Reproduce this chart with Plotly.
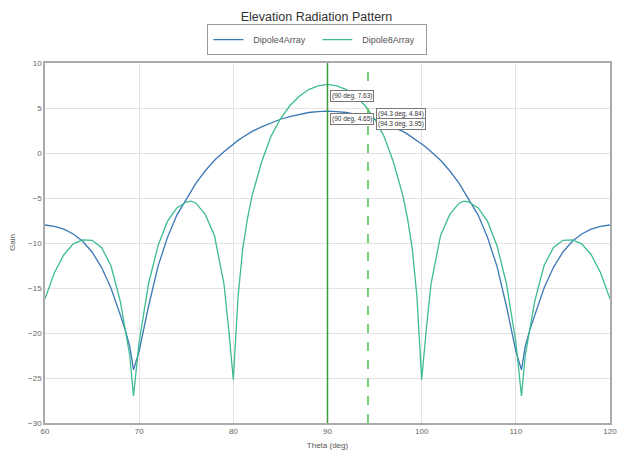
import plotly.graph_objects as go

# ---- data ----
theta = [60, 61, 62, 63, 64, 65, 66, 67, 68, 68.5, 69, 69.4, 70, 71, 72, 73, 74, 75, 75.5, 76,
         77, 78, 79, 79.5, 80, 80.5, 81, 81.5, 82, 83, 84, 85, 86, 87, 88, 89, 90,
         91, 92, 93, 94, 95, 96, 97, 98, 98.5, 99, 99.5, 100, 100.5, 101, 102, 103, 104, 104.5,
         105, 106, 107, 108, 109, 110, 110.6, 111, 111.5, 112, 113, 114, 115, 116, 117, 118, 119, 120]

dipole4 = [-8.0, -8.15, -8.45, -9.0, -9.8, -11.0, -12.7, -15.0, -18.0, -19.6, -21.5, -24.1, -22.0,
           -17.0, -12.6, -9.4, -6.9, -5.2, -4.3, -3.4, -2.0, -0.8, 0.15, 0.6, 1.0, 1.4, 1.75, 2.1,
           2.4, 2.9, 3.35, 3.75, 4.05, 4.3, 4.5, 4.6, 4.65,
           4.6, 4.5, 4.3, 4.05, 3.75, 3.35, 2.9, 2.4, 2.1, 1.75, 1.4, 1.0, 0.6, 0.15, -0.8, -2.0,
           -3.4, -4.3, -5.2, -6.9, -9.4, -12.6, -17.0, -22.0, -24.1, -21.5, -19.6, -18.0, -15.0,
           -12.7, -11.0, -9.8, -9.0, -8.45, -8.15, -8.0]

dipole8 = [-16.2, -13.3, -11.3, -10.1, -9.65, -9.7, -10.5, -12.5, -16.5, -19.5, -22.5, -27.0, -21.0,
           -14.5, -10.3, -7.6, -6.1, -5.45, -5.35, -5.55, -6.8, -9.2, -14.5, -19.5, -25.2, -16.0,
           -10.6, -7.3, -4.7, -1.0, 1.85, 3.8, 5.25, 6.3, 7.05, 7.45, 7.63,
           7.45, 7.05, 6.3, 5.25, 3.8, 1.85, -1.0, -4.7, -7.3, -10.6, -16.0, -25.2, -19.5, -14.5,
           -9.2, -6.8, -5.55, -5.35, -5.45, -6.1, -7.6, -10.3, -14.5, -21.0, -27.0, -22.5, -19.5,
           -16.5, -12.5, -10.5, -9.7, -9.65, -10.1, -11.3, -13.3, -16.2]

series_names = ["Dipole4Array", "Dipole8Array"]
series_colors = ["#3b78b5", "#3dbb92"]

cursor_theta = [90, 94.3]
cursor_styles = ["solid", "dash"]
cursor_colors = ["#3a9a3a", "#4fbf4f"]

# data-tip labels: (theta, gain, text shown)
tip_theta = [90, 90, 94.3, 94.3]
tip_gain = [7.63, 4.65, 4.84, 3.95]
tip_text = ["(90 deg, 7.63)", "(90 deg, 4.65)", "(94.3 deg, 4.84)", "(94.3 deg, 3.95)"]
tip_xshift = [2, 2, 8, 8]
tip_yshift = [-5.7, -1.8, 1.4, -0.8]

x_ticks = [60, 70, 80, 90, 100, 110, 120]
y_ticks = [-30, -25, -20, -15, -10, -5, 0, 5, 10]

FONT = "Liberation Sans, Arial, sans-serif"

fig = go.Figure()
for name, vals, col in zip(series_names, [dipole4, dipole8], series_colors):
    fig.add_trace(go.Scatter(x=theta, y=vals, mode="lines", name="\u00a0\u00a0" + name,
                             line=dict(color=col, width=1.3)))

for cx, st, cc in zip(cursor_theta, cursor_styles, cursor_colors):
    fig.add_shape(type="line", x0=cx, x1=cx, xref="x", y0=0, y1=1, yref="paper",
                  line=dict(color=cc, width=1.5, dash=st))

for tx, ty, tt, xs, ys in zip(tip_theta, tip_gain, tip_text, tip_xshift, tip_yshift):
    fig.add_annotation(x=tx, y=ty, text=tt, showarrow=False, xanchor="left", yanchor="top",
                       xshift=xs, yshift=ys, bgcolor="white", bordercolor="#777",
                       borderwidth=1, borderpad=1,
                       font=dict(size=6.5, color="#333", family=FONT))

# y-axis title placed like the reference
fig.add_annotation(text="Gain", xref="paper", yref="paper", x=-0.0584, y=0.5,
                   xanchor="center", yanchor="middle", textangle=-90, showarrow=False,
                   font=dict(size=8, color="#555", family=FONT))

fig.update_layout(
    width=618, height=443,
    margin=dict(l=37, r=16, t=55, b=28),
    paper_bgcolor="white", plot_bgcolor="white",
    font=dict(family=FONT, size=8, color="#555"),
    title=dict(text="Elevation Radiation Pattern", x=0.4992, xanchor="center",
               y=1 - 9 / 443, yanchor="middle",
               font=dict(size=12.5, color="#333")),
    legend=dict(orientation="h", x=0.482, xanchor="center", y=1.022, yanchor="bottom",
                bordercolor="#999", borderwidth=1, bgcolor="white",
                font=dict(size=9, color="#555"), entrywidth=64, entrywidthmode="pixels"),
    showlegend=True,
)
fig.update_xaxes(range=[60, 120], tickvals=x_ticks, showgrid=True, gridcolor="#e2e2e2",
                 showline=True, linecolor="#aaa", linewidth=1.5, mirror=True, ticks="",
                 zeroline=False, automargin=False,
                 title=dict(text="Theta (deg)", font=dict(size=8, color="#555"), standoff=7),
                 tickfont=dict(size=8, color="#666"))
fig.update_yaxes(range=[-30, 10], tickvals=y_ticks, showgrid=True, gridcolor="#e2e2e2",
                 showline=True, linecolor="#aaa", linewidth=1.5, mirror=True, ticks="",
                 zeroline=False, automargin=False,
                 tickfont=dict(size=8, color="#666"))

fig.write_html("out.html")
